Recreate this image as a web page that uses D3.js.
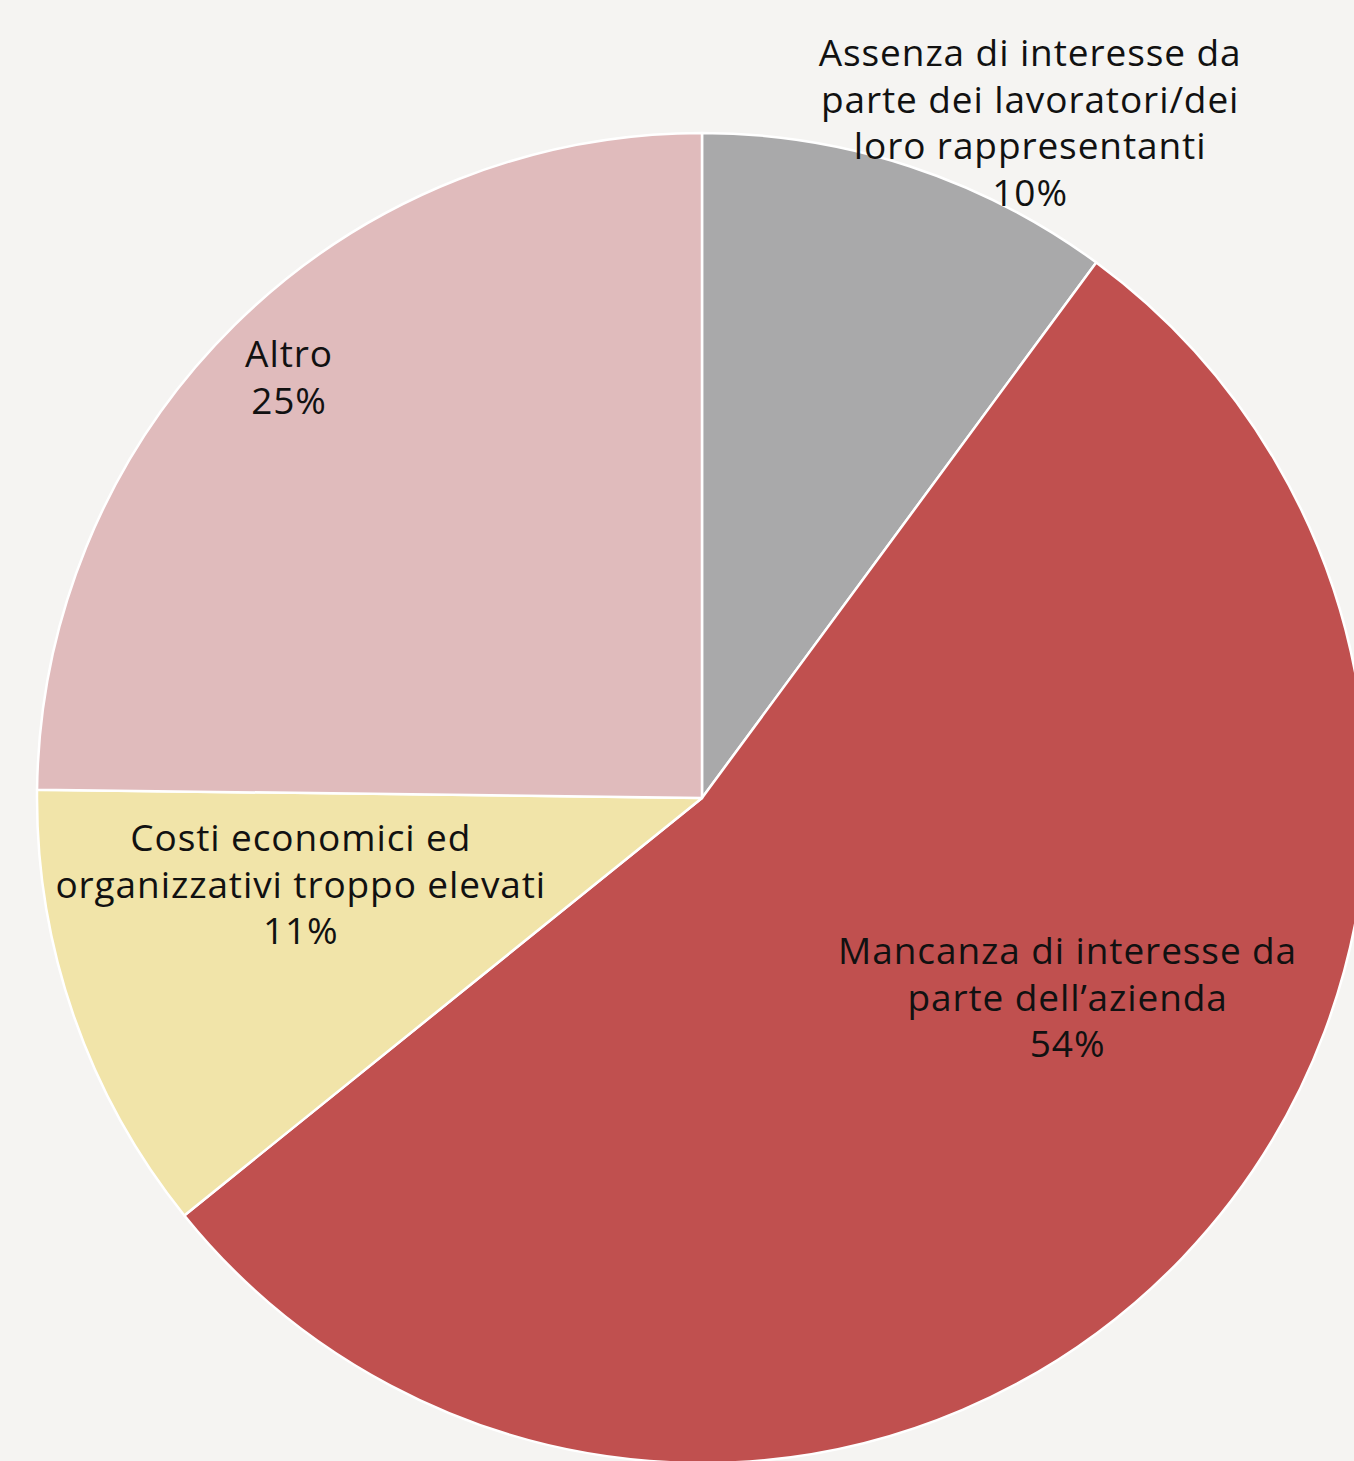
<!DOCTYPE html>
<html>
<head>
<meta charset="utf-8">
<script src="https://cdn.jsdelivr.net/npm/d3@7"></script>
<style>
  html, body { margin: 0; padding: 0; background: #F5F4F2; }
  svg { display: block; }
</style>
</head>
<body>
<svg id="chart" width="1354" height="1461"></svg>
<script>
// Reasons reported, share of respondents (%)
const categories = [
  "Assenza di interesse da parte dei lavoratori/dei loro rappresentanti",
  "Mancanza di interesse da parte dell\u2019azienda",
  "Costi economici ed organizzativi troppo elevati",
  "Altro"
];
const values = [10.1, 54.1, 11.0, 24.8];

// Label text broken into lines, one list per category
const labelLines = [
  ["Assenza di interesse da", "parte dei lavoratori/dei", "loro rappresentanti"],
  ["Mancanza di interesse da", "parte dell\u2019azienda"],
  ["Costi economici ed", "organizzativi troppo elevati"],
  ["Altro"]
];

const colors = ["#A9A9AA", "#C0504F", "#F1E4A9", "#E0BBBC"];

// Label anchor: angle (deg, clockwise from 12 o'clock) and distance as a share of the radius
const labelPlacement = [
  { angle: 25.9, dist: 1.128 },
  { angle: 118.7, dist: 0.626 },
  { angle: 257.8, dist: 0.618 },
  { angle: 315.5, dist: 0.887 }
];

const width = 1354, height = 1461;
const cx = 702, cy = 798, radius = 665;
const fontSize = 37, lineHeight = 46.5, tracking = 0.9;

const svg = d3.select("#chart");
svg.append("rect").attr("width", width).attr("height", height).attr("fill", "#F5F4F2");

const data = categories.map((c, i) => ({ name: c, value: values[i], i }));
const total = d3.sum(values);

const pie = d3.pie().value(d => d.value).sort(null);
const arc = d3.arc().innerRadius(0).outerRadius(radius);

const g = svg.append("g").attr("transform", `translate(${cx},${cy})`);

g.selectAll("path.slice")
  .data(pie(data))
  .join("path")
  .attr("class", "slice")
  .attr("d", arc)
  .attr("fill", d => colors[d.data.i])
  .attr("stroke", "#FFFFFF")
  .attr("stroke-width", 2.5)
  .attr("stroke-linejoin", "round");

const pct = d3.format(".0f");

g.selectAll("text.label")
  .data(data)
  .join("text")
  .attr("class", "label")
  .attr("text-anchor", "middle")
  .attr("font-family", "'Open Sans', 'Noto Sans', sans-serif")
  .attr("font-weight", 400)
  .attr("font-size", fontSize)
  .attr("letter-spacing", tracking)
  .attr("fill", "#111111")
  .each(function(d) {
    const p = labelPlacement[d.i];
    const a = p.angle * Math.PI / 180;
    const x = Math.sin(a) * radius * p.dist + tracking / 2;
    const y = -Math.cos(a) * radius * p.dist;
    const lines = labelLines[d.i].concat([pct(d.value / total * 100) + "%"]);
    const n = lines.length;
    const t = d3.select(this);
    lines.forEach((ln, k) => {
      t.append("tspan")
        .attr("x", x)
        .attr("y", y + (k - (n - 1) / 2) * lineHeight)
        .attr("dy", "0.35em")
        .text(ln);
    });
  });
</script>
</body>
</html>
